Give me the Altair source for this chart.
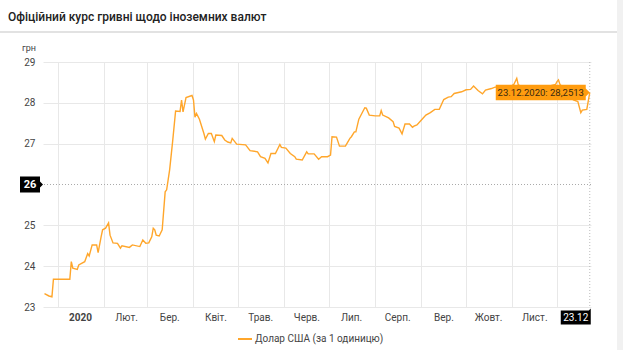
import altair as alt
import pandas as pd

# ---- data ----
dates = [
    "2019-12-23", "2019-12-26", "2019-12-28", "2019-12-29", "2020-01-09", "2020-01-10",
    "2020-01-11", "2020-01-14", "2020-01-15", "2020-01-19", "2020-01-21", "2020-01-22",
    "2020-01-24", "2020-01-27", "2020-01-28", "2020-01-30", "2020-01-31", "2020-02-02",
    "2020-02-04", "2020-02-05", "2020-02-07", "2020-02-10", "2020-02-12", "2020-02-13",
    "2020-02-18", "2020-02-20", "2020-02-25", "2020-02-27", "2020-02-29", "2020-03-02",
    "2020-03-04", "2020-03-05", "2020-03-06", "2020-03-07", "2020-03-09", "2020-03-11",
    "2020-03-13", "2020-03-14", "2020-03-16", "2020-03-18", "2020-03-20", "2020-03-23",
    "2020-03-24", "2020-03-25", "2020-03-27", "2020-03-31", "2020-04-01", "2020-04-02",
    "2020-04-03", "2020-04-05", "2020-04-08", "2020-04-09", "2020-04-11", "2020-04-13",
    "2020-04-15", "2020-04-16", "2020-04-20", "2020-04-22", "2020-04-24", "2020-04-26",
    "2020-04-27", "2020-04-30", "2020-05-06", "2020-05-09", "2020-05-14", "2020-05-16",
    "2020-05-19", "2020-05-21", "2020-05-23", "2020-05-26", "2020-05-29", "2020-05-30",
    "2020-06-02", "2020-06-05", "2020-06-08", "2020-06-09", "2020-06-13", "2020-06-16",
    "2020-06-17", "2020-06-21", "2020-06-24", "2020-06-26", "2020-06-30", "2020-07-02",
    "2020-07-03", "2020-07-06", "2020-07-08", "2020-07-12", "2020-07-15", "2020-07-16",
    "2020-07-18", "2020-07-19", "2020-07-21", "2020-07-25", "2020-07-26", "2020-07-28",
    "2020-08-01", "2020-08-04", "2020-08-05", "2020-08-06", "2020-08-10", "2020-08-13",
    "2020-08-14", "2020-08-17", "2020-08-19", "2020-08-21", "2020-08-24", "2020-08-26",
    "2020-08-27", "2020-08-29", "2020-09-01", "2020-09-04", "2020-09-07", "2020-09-10",
    "2020-09-13", "2020-09-16", "2020-09-19", "2020-09-21", "2020-09-23", "2020-09-28",
    "2020-10-01", "2020-10-04", "2020-10-06", "2020-10-09", "2020-10-12", "2020-10-14",
    "2020-10-18", "2020-10-20", "2020-10-23", "2020-10-27", "2020-10-30", "2020-11-02",
    "2020-11-04", "2020-11-05", "2020-11-10", "2020-11-16", "2020-11-20", "2020-11-25",
    "2020-11-30", "2020-12-01", "2020-12-02", "2020-12-03", "2020-12-06", "2020-12-09",
    "2020-12-12", "2020-12-15", "2020-12-17", "2020-12-18", "2020-12-21", "2020-12-23",
]
usd_rate = [
    23.33, 23.27, 23.25, 23.68, 23.68, 24.11,
    23.95, 23.92, 24.03, 24.11, 24.31, 24.25,
    24.52, 24.52, 24.33, 24.72, 24.89, 24.93,
    25.06, 24.76, 24.57, 24.56, 24.44, 24.50,
    24.46, 24.52, 24.48, 24.64, 24.56, 24.57,
    24.72, 24.93, 24.89, 24.76, 24.74, 24.89,
    25.82, 25.87, 26.36, 27.05, 27.80, 27.79,
    28.07, 27.78, 28.13, 28.18, 28.07, 27.65,
    27.74, 27.60, 27.25, 27.11, 27.25, 27.25,
    27.05, 27.21, 27.20, 27.09, 27.04, 27.02,
    27.13, 26.99, 26.97, 26.83, 26.80, 26.68,
    26.64, 26.53, 26.76, 26.76, 26.98, 26.91,
    26.89, 26.76, 26.68, 26.62, 26.60, 26.80,
    26.75, 26.75, 26.62, 26.68, 26.68, 26.72,
    27.17, 27.16, 26.94, 26.94, 27.13, 27.17,
    27.29, 27.29, 27.60, 27.88, 27.87, 27.70,
    27.68, 27.68, 27.81, 27.70, 27.63, 27.54,
    27.42, 27.38, 27.24, 27.48, 27.48, 27.40,
    27.43, 27.46, 27.58, 27.70, 27.76, 27.84,
    27.84, 28.08, 28.14, 28.15, 28.23, 28.27,
    28.32, 28.33, 28.41, 28.30, 28.22, 28.31,
    28.35, 28.38, 28.40, 28.42, 28.38, 28.45,
    28.60, 28.44, 28.35, 28.30, 28.32, 28.40,
    28.45, 28.52, 28.56, 28.45, 28.35, 28.20,
    28.07, 28.03, 27.76, 27.82, 27.84, 28.2513,
]
y_ticks = [23, 24, 25, 27, 28, 29]
month_starts = ["2020-01-01", "2020-02-01", "2020-03-01", "2020-04-01", "2020-05-01",
                "2020-06-01", "2020-07-01", "2020-08-01", "2020-09-01", "2020-10-01",
                "2020-11-01", "2020-12-01"]
month_labels = ["2020", "Лют.", "Бер.", "Квіт.", "Трав.", "Черв.", "Лип.", "Серп.",
                "Вер.", "Жовт.", "Лист.", ""]
x_domain = ["2019-12-22T00:00:00Z", "2020-12-23T20:00:00Z"]
cursor_date = "2020-12-23"
cursor_value = 28.2513
cursor_level = 26
tooltip_text = "23.12.2020: 28,2513"
cursor_date_label = "23.12"
title_text = "Офіційний курс гривні щодо іноземних валют"
unit_text = "грн"
legend_text = "Долар США (за 1 одиницю)"

LINE = "#ffa62b"
TIP = "#ff9c0f"
FONT = "Roboto"
W, H = 548, 245

df = pd.DataFrame({"date": dates, "rate": usd_rate})
cur = pd.DataFrame({"date": [cursor_date], "rate": [cursor_value], "lvl": [cursor_level],
                    "tip": [tooltip_text], "dl": [cursor_date_label]})

label_arr = "[" + ",".join("'" + s + "'" for s in month_labels) + "]"

xscale = alt.Scale(type="utc", domain=x_domain)
yscale = alt.Scale(domain=[23, 29], nice=False, zero=False)

x_axis = alt.Axis(
    values=month_starts, title=None, domain=False, ticks=False,
    labelExpr=label_arr + "[utcmonth(datum.value)]",
    labelOffset=22, labelPadding=5, labelFontSize=10, labelColor="#444",
    labelFont=FONT,
    labelFontWeight=alt.expr("utcmonth(datum.value) == 0 ? 'bold' : 'normal'"),
    gridColor="#e8e8e8", gridWidth=1, labelFlush=False, labelOverlap=False,
)
y_axis = alt.Axis(
    values=y_ticks, title=None, domain=False, ticks=False, format="d",
    labelPadding=8, labelFontSize=10, labelColor="#444", labelFont=FONT,
    gridColor="#e8e8e8", gridWidth=1,
)

base_line = alt.Chart(df).mark_line(color=LINE, strokeWidth=1.4, interpolate="linear").encode(
    x=alt.X("date:T", scale=xscale, axis=x_axis),
    y=alt.Y("rate:Q", scale=yscale, axis=y_axis),
)

# crosshair
h_rule = alt.Chart(cur).mark_rule(color="#aaa", strokeDash=[1, 2], strokeWidth=1).encode(
    y=alt.Y("lvl:Q", scale=yscale)
)
v_rule = alt.Chart(cur).mark_rule(color="#bbb", strokeDash=[1, 2], strokeWidth=1).encode(
    x=alt.X("date:T", scale=xscale)
)

# y cursor label (black box with arrow)
ybox_path = "M0,0 L-0.3,-0.3 L-0.3,-0.8 L-2.3,-0.8 L-2.3,0.8 L-0.3,0.8 L-0.3,0.3 Z"
ybox = alt.Chart(cur).mark_point(shape=ybox_path, size=400, filled=True, color="#000",
                                 opacity=1, strokeWidth=0).encode(
    x=alt.value(0), y=alt.Y("lvl:Q", scale=yscale)
)
ytext = alt.Chart(cur).mark_text(color="#fff", fontWeight="bold", fontSize=11, font=FONT,
                                 dx=-13, align="center", baseline="middle").encode(
    x=alt.value(0), y=alt.Y("lvl:Q", scale=yscale), text="lvl:Q"
)

# x cursor label
xbox_path = "M0.1,0.15 L0.1,1.75 L-2.9,1.75 L-2.9,0.35 L-0.1,0.35 Z"
xbox = alt.Chart(cur).mark_point(shape=xbox_path, size=400, filled=True, color="#000",
                                 opacity=1, strokeWidth=0).encode(
    x=alt.X("date:T", scale=xscale), y=alt.value(H)
)
xtext = alt.Chart(cur).mark_text(color="#fff", fontSize=10, font=FONT,
                                 dx=-14, dy=10.5, align="center", baseline="middle").encode(
    x=alt.X("date:T", scale=xscale), y=alt.value(H), text="dl:N"
)

# tooltip
tip_path = "M0,0 L-0.4,-0.4 L-0.4,-0.78 L-9.4,-0.78 L-9.4,0.78 L-0.4,0.78 L-0.4,0.4 Z"
tip_box = alt.Chart(cur).mark_point(shape=tip_path, size=400, filled=True, color=TIP,
                                    opacity=1, strokeWidth=0).encode(
    x=alt.X("date:T", scale=xscale), y=alt.Y("rate:Q", scale=yscale)
)
tip_text = alt.Chart(cur).mark_text(color="#3a2a10", fontSize=9.5, font=FONT,
                                    dx=-49, align="center", baseline="middle").encode(
    x=alt.X("date:T", scale=xscale), y=alt.Y("rate:Q", scale=yscale), text="tip:N"
)

# header, unit, legend, decorations
title = alt.Chart(cur).mark_text(text=title_text, font=FONT, fontSize=12, fontWeight=500,
                                 color="#222", align="left", baseline="middle").encode(
    x=alt.value(-35), y=alt.value(-45)
)
sep = alt.Chart(cur).mark_rule(color="#e2e2e2", strokeWidth=2).encode(
    x=alt.value(-43), x2=alt.value(574), y=alt.value(-30)
)
strip = alt.Chart(cur).mark_rect(color="#f1f1f1").encode(
    x=alt.value(574), x2=alt.value(580), y=alt.value(-62), y2=alt.value(288)
)
unit = alt.Chart(cur).mark_text(text=unit_text, font=FONT, fontSize=9, color="#444",
                                align="left", baseline="middle").encode(
    x=alt.value(-21), y=alt.value(-14)
)
leg_line = alt.Chart(cur).mark_rule(color=LINE, strokeWidth=2).encode(
    x=alt.value(195), x2=alt.value(209), y=alt.value(277)
)
leg_text = alt.Chart(cur).mark_text(text=legend_text, font=FONT, fontSize=10, color="#444",
                                    align="left", baseline="middle").encode(
    x=alt.value(212), y=alt.value(277)
)

chart = alt.layer(
    strip, sep, h_rule, v_rule, base_line, tip_box, tip_text, ybox, ytext, xbox, xtext,
    title, unit, leg_line, leg_text,
).properties(
    width=W, height=H,
    autosize=alt.AutoSizeParams(type="none"),
    padding={"left": 43, "top": 62, "right": 32, "bottom": 43},
    background="#ffffff",
).configure_view(stroke=None)

chart.save("out.html", embed_options={"renderer": "svg", "actions": False})
